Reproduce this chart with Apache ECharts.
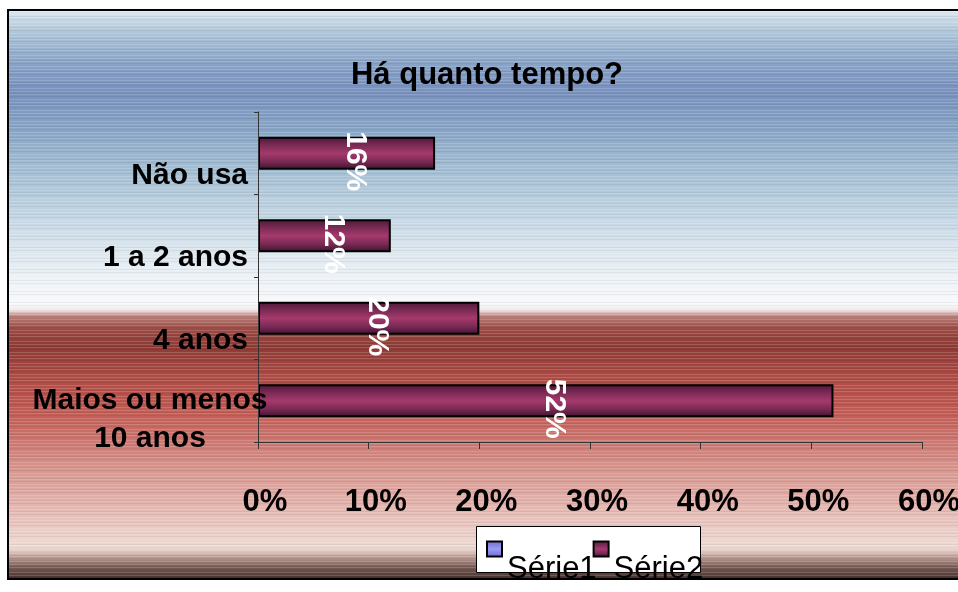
<!DOCTYPE html>
<html>
<head>
<meta charset="utf-8">
<script src="https://cdn.jsdelivr.net/npm/echarts@6/dist/echarts.min.js"></script>
<style>
  html, body { margin: 0; padding: 0; background: #fff; }
  #chart { width: 958px; height: 592px; background-repeat: no-repeat; }
</style>
</head>
<body>
<div id="chart"></div>
<script>
// data
const chartTitle = 'Há quanto tempo?';
const categories = ['Não usa', '1 a 2 anos', '4 anos', 'Maios ou menos\n10 anos'];
const serie1 = [];
const serie2 = [16, 12, 20, 52];
const xTicks = [0, 10, 20, 30, 40, 50, 60];

const FONT = '"Liberation Sans", Arial, sans-serif';

// striped excel-like background, painted once into the div
function paintBackground(w, h) {
  const c = document.createElement('canvas');
  c.width = w;
  c.height = h;
  const ctx = c.getContext('2d');
  ctx.fillStyle = '#fff';
  ctx.fillRect(0, 0, w, h);
  const top = 10, bottom = 579;
  const g = ctx.createLinearGradient(0, top, 0, bottom);
  const stops = [
    [10, '#dde8f0'], [30, '#b2c9db'], [60, '#8ca6c9'], [92, '#7790bd'],
    [125, '#86a2c5'], [165, '#a0bbd2'], [205, '#bcd1e0'], [245, '#d8e4ed'],
    [280, '#eef3f7'], [305, '#f8f9fb'], [310, '#f0e6e4'], [317, '#b87a74'],
    [329, '#9a4a44'], [347, '#8e3a35'], [380, '#b04c46'], [410, '#c05a52'],
    [440, '#cc7670'], [470, '#d8968f'], [500, '#e2b0aa'], [530, '#ebcdc6'],
    [548, '#eedcd4'], [556, '#c4a49c'], [566, '#80605a'], [578, '#48322e']
  ];
  stops.forEach(([y, col]) => g.addColorStop((y - top) / (bottom - top), col));
  ctx.fillStyle = g;
  ctx.fillRect(8, top, w, bottom - top);
  for (let y = top; y < bottom; y++) {
    const k = (y * 37) % 11;
    if (k < 3) {
      ctx.fillStyle = 'rgba(255,255,255,0.16)';
      ctx.fillRect(8, y, w, 1);
    } else if (k > 8) {
      ctx.fillStyle = 'rgba(0,0,0,0.05)';
      ctx.fillRect(8, y, w, 1);
    }
  }
  ctx.strokeStyle = '#000';
  ctx.lineWidth = 2;
  ctx.strokeRect(8, top, w + 20, bottom - top);
  return c.toDataURL();
}

const dom = document.getElementById('chart');
dom.style.backgroundImage = 'url(' + paintBackground(958, 592) + ')';

const maroon = new echarts.graphic.LinearGradient(0, 0, 0, 1, [
  { offset: 0, color: '#4a1836' },
  { offset: 0.25, color: '#7a2a55' },
  { offset: 0.5, color: '#a53a6c' },
  { offset: 0.75, color: '#7a2a55' },
  { offset: 1, color: '#3c122e' }
]);
const lilac = new echarts.graphic.LinearGradient(0, 0, 0, 1, [
  { offset: 0, color: '#6a6ad0' },
  { offset: 0.5, color: '#9c9cf4' },
  { offset: 1, color: '#6a6ad0' }
]);

// labels sit a little below their bars, like the original
const yData = categories.map((c, i) =>
  i === categories.length - 1
    ? { value: c, textStyle: { align: 'center', lineHeight: 38, padding: [0, 196, 0, 0] } }
    : c
);

const chart = echarts.init(dom, null, { renderer: 'canvas' });
chart.setOption({
  backgroundColor: 'transparent',
  animation: false,
  textStyle: { fontFamily: FONT },
  title: {
    text: chartTitle,
    left: 482,
    top: 55,
    textAlign: 'center',
    textStyle: { fontSize: 31, fontWeight: 'bold', color: '#000', fontFamily: FONT }
  },
  grid: { left: 258, right: 36, top: 112, bottom: 150, outerBoundsMode: 'none' },
  xAxis: {
    type: 'value',
    min: xTicks[0],
    max: xTicks[xTicks.length - 1],
    interval: xTicks[1] - xTicks[0],
    splitLine: { show: false },
    axisLine: { show: true, lineStyle: { color: '#333', width: 1 } },
    axisTick: { show: true, length: 7, lineStyle: { color: '#333' } },
    axisLabel: {
      formatter: '{value}%',
      margin: 45,
      fontSize: 31,
      fontWeight: 'bold',
      color: '#000',
      fontFamily: FONT,
      padding: [0, 0, 0, 14]
    }
  },
  yAxis: {
    type: 'category',
    inverse: true,
    z: 4,
    data: yData,
    axisLine: { show: true, lineStyle: { color: '#333', width: 1 } },
    axisTick: { show: true, length: 4, lineStyle: { color: '#333' } },
    axisLabel: {
      interval: 0,
      margin: 10,
      fontSize: 30,
      fontWeight: 'bold',
      color: '#000',
      fontFamily: FONT,
      lineHeight: 44,
      formatter: v => '\n' + v
    }
  },
  legend: {
    data: ['Série1', 'Série2'],
    left: 486,
    top: 509,
    padding: 0,
    z: 5,
    icon: 'rect',
    itemWidth: 15,
    itemHeight: 15,
    itemGap: -4,
    formatter: name => '\n' + name,
    textStyle: { fontSize: 31, lineHeight: 40, color: '#000', fontFamily: FONT }
  },
  graphic: [{
    type: 'rect',
    left: 476,
    top: 526,
    z: 0,
    shape: { width: 224, height: 46 },
    style: { fill: '#fff', stroke: '#000', lineWidth: 1 }
  }],
  series: [
    {
      name: 'Série1',
      type: 'bar',
      data: serie1,
      barWidth: 33,
      barGap: '-100%',
      itemStyle: { color: lilac, borderColor: '#000', borderWidth: 1.5 }
    },
    {
      name: 'Série2',
      type: 'bar',
      data: serie2,
      barWidth: 33,
      barGap: '-100%',
      itemStyle: { color: maroon, borderColor: '#000', borderWidth: 2 },
      label: {
        show: true,
        position: 'inside',
        rotate: -90,
        formatter: '{c}%',
        color: '#fff',
        fontSize: 30,
        fontWeight: 'bold',
        fontFamily: FONT,
        offset: [8, -9]
      }
    }
  ]
});
</script>
</body>
</html>
